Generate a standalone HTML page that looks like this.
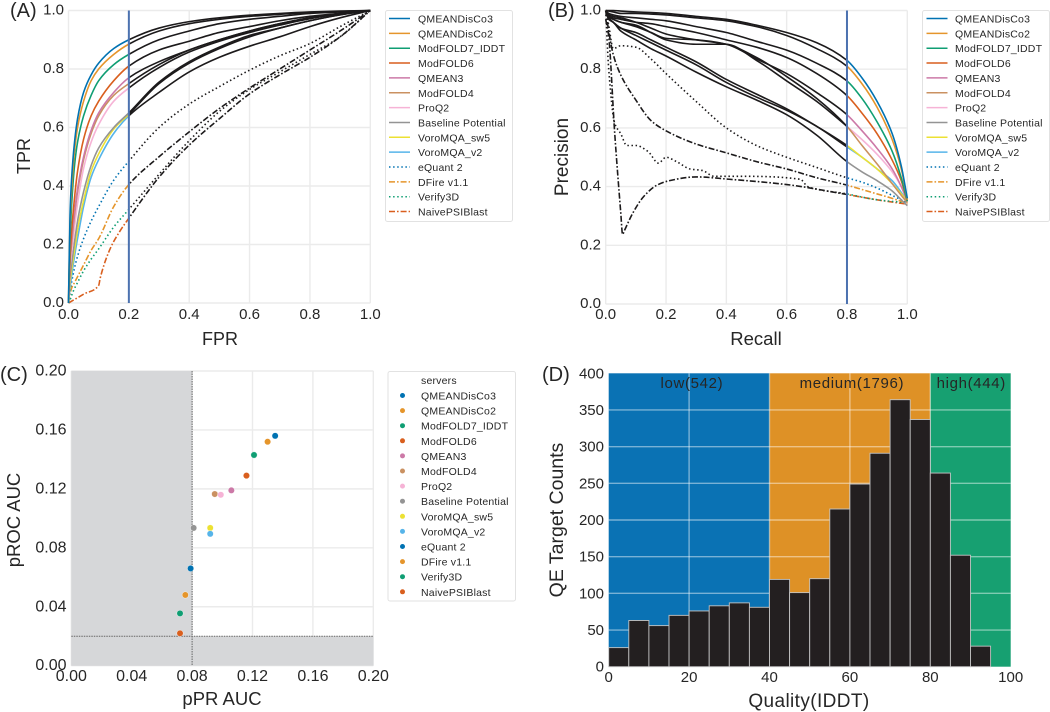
<!DOCTYPE html>
<html lang="en">
<head>
<meta charset="utf-8">
<title>QE benchmark panels</title>
<style>
html,body{margin:0;padding:0;background:#fff;width:1050px;height:712px;overflow:hidden}
svg{display:block;filter:blur(0.3px)}
text{font-family:"Liberation Sans",sans-serif;fill:#262626}
</style>
</head>
<body>
<svg id="fig" xmlns="http://www.w3.org/2000/svg" width="1050" height="712" viewBox="0 0 1050 712"></svg>
<script>
// ---------- shared categories ----------
const seriesNames = ["QMEANDisCo3","QMEANDisCo2","ModFOLD7_IDDT","ModFOLD6","QMEAN3","ModFOLD4","ProQ2","Baseline Potential","VoroMQA_sw5","VoroMQA_v2","eQuant 2","DFire v1.1","Verify3D","NaivePSIBlast"];

// ---------- panel A: ROC ----------
const rocFpr = [0,.005,.01,.02,.03,.05,.075,.1,.15,.2,.3,.4,.5,.6,.7,.8,.9,1];
const rocQMEANDisCo3 = [0,.30,.42,.55,.63,.72,.78,.82,.87,.90,.94,.962,.975,.984,.99,.995,.998,1];
const rocQMEANDisCo2 = [0,.27,.38,.52,.60,.69,.76,.80,.85,.885,.93,.955,.97,.98,.987,.993,.997,1];
const rocModFOLD7 = [0,.22,.33,.47,.55,.64,.71,.76,.815,.85,.90,.93,.955,.97,.98,.99,.995,1];
const rocModFOLD6 = [0,.15,.24,.36,.45,.56,.64,.69,.76,.81,.865,.895,.925,.945,.965,.98,.99,1];
const rocQMEAN3 = [0,.14,.21,.31,.39,.50,.59,.65,.72,.77,.825,.865,.90,.93,.955,.975,.99,1];
const rocModFOLD4 = [0,.14,.20,.30,.38,.49,.58,.64,.71,.75,.815,.865,.90,.93,.955,.975,.99,1];
const rocProQ2 = [0,.12,.17,.26,.34,.46,.55,.61,.69,.735,.805,.858,.895,.925,.95,.972,.988,1];
const rocBaseline = [0,.09,.13,.21,.28,.38,.47,.53,.60,.65,.755,.825,.875,.915,.94,.965,.985,1];
const rocVoroSw5 = [0,.07,.11,.18,.25,.35,.45,.51,.595,.645,.75,.82,.87,.91,.94,.965,.985,1];
const rocVoroV2 = [0,.05,.09,.16,.22,.33,.43,.49,.58,.64,.72,.79,.84,.878,.91,.945,.975,1];
const rocEQuant = [0,.04,.07,.12,.16,.22,.28,.33,.42,.485,.60,.68,.74,.796,.845,.887,.945,1];
const rocDFire = [0,.03,.05,.07,.09,.13,.18,.22,.33,.405,.50,.585,.665,.735,.80,.865,.93,1];
const rocVerify3D = [0,.01,.025,.05,.07,.11,.15,.185,.26,.32,.44,.555,.655,.73,.79,.85,.91,1];
const rocNaiveFpr = [0,.05,.1,.105,.14,.17,.2,.3,.4,.5,.6,.7,.8,.9,1];
const rocNaive = [0,.03,.06,.085,.19,.245,.29,.43,.54,.63,.715,.78,.84,.91,1];
const rocThreshold = [0.2];

// ---------- panel B: precision-recall ----------
const prRecall = [0,.01,.025,.05,.1,.15,.2,.3,.4,.5,.6,.7,.8,.85,.9,.95,.98,1];
const prQMEANDisCo3 = [1,1,1,.998,.995,.993,.99,.98,.97,.95,.925,.89,.83,.77,.69,.58,.47,.36];
const prQMEANDisCo2 = [1,.998,.995,.99,.99,.988,.985,.975,.965,.945,.915,.87,.81,.75,.67,.56,.46,.355];
const prModFOLD7 = [1,.99,.985,.98,.975,.97,.965,.945,.925,.895,.865,.82,.76,.70,.62,.52,.43,.35];
const prModFOLD6 = [1,.98,.975,.97,.96,.955,.945,.925,.90,.875,.84,.785,.71,.65,.58,.49,.42,.35];
const prQMEAN3 = [1,.985,.98,.975,.96,.94,.92,.90,.885,.835,.785,.72,.645,.59,.53,.46,.40,.35];
const prModFOLD4 = [1,.98,.97,.96,.945,.925,.905,.90,.885,.84,.775,.70,.605,.54,.477,.41,.37,.345];
const prProQ2 = [1,.98,.97,.96,.95,.925,.90,.885,.885,.83,.76,.69,.605,.56,.51,.45,.40,.35];
const prBaseline = [1,.97,.96,.93,.90,.87,.845,.79,.74,.695,.645,.575,.485,.45,.42,.385,.355,.335];
const prVoroSw5 = [1,.975,.96,.94,.925,.90,.875,.825,.765,.715,.665,.605,.54,.50,.46,.41,.375,.35];
const prVoroV2 = [1,.975,.96,.94,.915,.89,.865,.815,.755,.705,.66,.605,.535,.50,.46,.42,.38,.35];
const prEQuant = [1,.95,.87,.88,.875,.835,.785,.69,.60,.54,.50,.465,.43,.415,.395,.37,.355,.345];
const prDFire = [1,.93,.85,.78,.695,.625,.59,.545,.515,.485,.46,.43,.405,.39,.375,.36,.35,.345];
const prVerify3DRecall = [0,.01,.03,.05,.07,.1,.14,.175,.2,.235,.28,.32,.36,.47,.645,.67,.8,.9,1];
const prVerify3D = [1,.8,.615,.58,.54,.54,.52,.48,.50,.485,.46,.455,.435,.435,.425,.40,.375,.355,.345];
const prNaiveRecall = [0,.009,.03,.05,.056,.062,.09,.125,.17,.21,.30,.41,.6,.8,.9,1];
const prNaive = [.97,.92,.58,.31,.237,.25,.31,.365,.405,.42,.433,.425,.407,.373,.355,.34];
const prThreshold = [0.8];

// ---------- panel C: partial AUC scatter ----------
const pPrAuc = [.135,.130,.121,.116,.106,.095,.099,.081,.092,.092,.079,.0755,.072,.072];
const pRocAuc = [.156,.152,.143,.129,.119,.1165,.116,.0935,.0935,.0895,.066,.048,.0355,.022];
const pPrCutoff = [0.08];
const pRocCutoff = [0.02];

// ---------- panel D: histogram ----------
const histCounts = [26,63,56,70,76,83,87,81,119,101,120,215,249,291,364,337,264,152,28,0];
const histBinWidth = [5];
const qualityRegionEdges = [0,40,80,100];
const qualityRegionLabels = ["low(542)","medium(1796)","high(444)"];
const qualityRegionLabelAt = [20.7,60.5,90.2];

// ---------- tick labels ----------
const unitTicks = [0,.2,.4,.6,.8,1];
const aucTicks = [0,.04,.08,.12,.16,.2];
const histXTicks = [0,20,40,60,80,100];
const histYTicks = [0,50,100,150,200,250,300,350,400];

// ---------- styling ----------
const colors = ["#0072b2","#e5952b","#0f9e73","#d95f1e","#cc79a7","#ca9161","#f6b3d6","#949494","#ece133","#56b4e9","#0072b2","#e5952b","#0f9e73","#d95f1e"];
const dashDot = "6 2 1.6 2";
const dotted = "1.5 2.6";
const dashes = [null,null,null,null,null,null,null,null,null,null,dotted,dashDot,dotted,dashDot];

const svg = document.getElementById('fig');
const NS = 'http://www.w3.org/2000/svg';
function mk(tag, attrs, parent) {
  const e = document.createElementNS(NS, tag);
  for (const k in attrs) e.setAttribute(k, attrs[k]);
  (parent || svg).appendChild(e);
  return e;
}
function txt(s, x, y, size, anchor, parent, rot, ls) {
  const t = mk('text', {x:x, y:y, 'font-size':size, 'text-anchor':anchor || 'start'}, parent);
  if (rot) t.setAttribute('transform', 'rotate(' + rot + ' ' + x + ' ' + y + ')');
  if (ls) t.setAttribute('letter-spacing', ls);
  t.textContent = s;
  return t;
}
function scale(d0, d1, r0, r1) { return v => r0 + (v - d0) * (r1 - r0) / (d1 - d0); }

// Monotone cubic path through data points mapped to pixels
function curve(xs, ys, sx, sy) {
  const n = xs.length, X = xs.map(sx), Y = ys.map(sy), d = [], m = new Array(n);
  for (let i = 0; i < n - 1; i++) d.push((Y[i + 1] - Y[i]) / (X[i + 1] - X[i]));
  m[0] = d[0]; m[n - 1] = d[n - 2];
  for (let i = 1; i < n - 1; i++) {
    if (d[i - 1] * d[i] <= 0) { m[i] = 0; continue; }
    const h0 = X[i] - X[i - 1], h1 = X[i + 1] - X[i];
    m[i] = 3 * (h0 + h1) / ((2 * h1 + h0) / d[i - 1] + (h1 + 2 * h0) / d[i]);
  }
  let p = 'M' + X[0].toFixed(2) + ' ' + Y[0].toFixed(2);
  for (let i = 0; i < n - 1; i++) {
    const h = (X[i + 1] - X[i]) / 3;
    p += 'C' + (X[i] + h).toFixed(2) + ' ' + (Y[i] + m[i] * h).toFixed(2) + ' ' +
         (X[i + 1] - h).toFixed(2) + ' ' + (Y[i + 1] - m[i + 1] * h).toFixed(2) + ' ' +
         X[i + 1].toFixed(2) + ' ' + Y[i + 1].toFixed(2);
  }
  return p;
}

function frame(g, box, xTicks, yTicks, sx, sy, gridColor) {
  for (const t of xTicks) {
    const l = mk('line', {x1:sx(t), x2:sx(t), y1:box.t, y2:box.b, stroke:gridColor, 'stroke-width':1.4}, g);
    
    
  }
  for (const t of yTicks) {
    const l = mk('line', {x1:box.l, x2:box.r, y1:sy(t), y2:sy(t), stroke:gridColor, 'stroke-width':1.4}, g);
    
    
  }
}
function tickLabels(g, xTicks, yTicks, sx, sy, xBase, yEnd, size, fmtX, fmtY, yShift) {
  for (const t of xTicks) {
    const e = txt(fmtX(t), sx(t), xBase, size, 'middle', g);
    
    
  }
  for (const t of yTicks) {
    const e = txt(fmtY(t), yEnd, sy(t) + yShift, size, 'end', g);
    
    
  }
}
function lineLegend(x, y, w, h, textX, lineX0, lineX1, firstY, step) {
  const g = mk('g', {});
  
  
  mk('rect', {x:x, y:y, width:w, height:h, rx:2, fill:'#fff', stroke:'#e2e2e2', 'stroke-width':1}, g);
  seriesNames.forEach((name, i) => {
    const row = mk('g', {}, g);
    
    
    const ly = firstY + i * step;
    const a = {x1:lineX0, x2:lineX1, y1:ly, y2:ly, stroke:colors[i], 'stroke-width':1.5};
    if (dashes[i]) a['stroke-dasharray'] = dashes[i];
    mk('line', a, row);
    txt(name, textX, ly + 4, 10.5, 'start', row, null, 0.2).setAttribute('fill', '#333');
  });
}

function curvePanel(name, box, xArrays, yArrays, thresh, colorLeft) {
  const g = mk('g', {});
  
  
  const sx = scale(0, 1, box.l, box.r), sy = scale(0, 1, box.b, box.t);
  frame(g, box, unitTicks, unitTicks, sx, sy, '#ebebeb');
  const tx = sx(thresh);
  const defs = mk('defs', {}, g);
  const cl = mk('clipPath', {id:name + '-left'}, defs);
  mk('rect', {x:box.l - 3, y:box.t - 4, width:tx - box.l + 3, height:box.b - box.t + 8}, cl);
  const cr = mk('clipPath', {id:name + '-right'}, defs);
  mk('rect', {x:tx, y:box.t - 4, width:box.r - tx + 3, height:box.b - box.t + 8}, cr);
  const colourClip = colorLeft ? '-left' : '-right', blackClip = colorLeft ? '-right' : '-left';
  for (let i = yArrays.length - 1; i >= 0; i--) {
    const d = curve(xArrays[i], yArrays[i], sx, sy);
    const base = {d:d, fill:'none', 'stroke-width':1.6, 'stroke-linejoin':'round'};
    if (dashes[i]) base['stroke-dasharray'] = dashes[i];
    const p1 = mk('path', Object.assign({stroke:colors[i], 'clip-path':'url(#' + name + colourClip + ')'}, base), g);
    
    
    const p2 = mk('path', Object.assign({stroke:'#1c1a1b', 'clip-path':'url(#' + name + blackClip + ')'}, base), g);
    
    
  }
  const th = mk('line', {x1:tx, x2:tx, y1:box.t, y2:box.b, stroke:'#4c72b0', 'stroke-width':2}, g);
  
  
  return {g, sx, sy};
}

// ===== Panel A =====
const boxA = {l:68.5, r:370.3, t:10.5, b:303};
const rocSeries = [rocQMEANDisCo3,rocQMEANDisCo2,rocModFOLD7,rocModFOLD6,rocQMEAN3,rocModFOLD4,rocProQ2,rocBaseline,rocVoroSw5,rocVoroV2,rocEQuant,rocDFire,rocVerify3D,rocNaive];
const rocXs = rocSeries.map(() => rocFpr);
rocXs[13] = rocNaiveFpr;
const A = curvePanel('roc-panel', boxA, rocXs, rocSeries, rocThreshold[0], true);
tickLabels(A.g, unitTicks, unitTicks, A.sx, A.sy, 319, 64, 15, t => t.toFixed(1), t => t.toFixed(1), 4);
const tA1 = txt('FPR', 220, 345, 18, 'middle', A.g);


const tA2 = txt('TPR', 30, 156, 18, 'middle', A.g, -90);


const tA3 = txt('(A)', 10, 17, 20, 'start', A.g);


lineLegend(385.5, 10.5, 127, 211, 418, 389, 410, 18.5, 14.85);

// ===== Panel B =====
const boxB = {l:605.7, r:907.3, t:10.5, b:304};
const prSeries = [prQMEANDisCo3,prQMEANDisCo2,prModFOLD7,prModFOLD6,prQMEAN3,prModFOLD4,prProQ2,prBaseline,prVoroSw5,prVoroV2,prEQuant,prDFire,prVerify3D,prNaive];
const prXs = prSeries.map(() => prRecall);
prXs[12] = prVerify3DRecall;
prXs[13] = prNaiveRecall;
const B = curvePanel('pr-panel', boxB, prXs, prSeries, prThreshold[0], false);
tickLabels(B.g, unitTicks, unitTicks, B.sx, B.sy, 319, 601, 15, t => t.toFixed(1), t => t.toFixed(1), 4);
const tB1 = txt('Recall', 756, 345, 18.5, 'middle', B.g);


const tB2 = txt('Precision', 568, 157, 19, 'middle', B.g, -90);


const tB3 = txt('(B)', 548, 17, 20, 'start', B.g);


lineLegend(922.5, 10.5, 127, 211, 955, 926.5, 947.5, 18.5, 14.85);

// ===== Panel C =====
(function () {
  const box = {l:71.3, r:373.3, t:371, b:665.7};
  const g = mk('g', {});
  
  
  const sx = scale(0, .2, box.l, box.r), sy = scale(0, .2, box.b, box.t);
  frame(g, box, aucTicks, aucTicks, sx, sy, '#ebebeb');
  const cx = sx(pPrCutoff[0]), cy = sy(pRocCutoff[0]);
  const r1 = mk('rect', {x:box.l, y:box.t, width:cx - box.l, height:box.b - box.t, fill:'#d6d7d9'}, g);
  
  
  const r2 = mk('rect', {x:box.l, y:cy, width:box.r - box.l, height:box.b - cy, fill:'#d6d7d9'}, g);
  
  
  const l1 = mk('line', {x1:cx, x2:cx, y1:box.t, y2:box.b, stroke:'#666', 'stroke-width':1, 'stroke-dasharray':'1.5 1'}, g);
  
  
  const l2 = mk('line', {x1:box.l, x2:box.r, y1:cy, y2:cy, stroke:'#666', 'stroke-width':1, 'stroke-dasharray':'1.5 1'}, g);
  
  
  pPrAuc.forEach((v, i) => {
    const c = mk('circle', {cx:sx(v), cy:sy(pRocAuc[i]), r:3.2, fill:colors[i], stroke:'#fff', 'stroke-width':.4}, g);
    
    
  });
  tickLabels(g, aucTicks, aucTicks, sx, sy, 681, 66.5, 16, t => t.toFixed(2), t => t.toFixed(2), 4.5);
  const t1 = txt('pPR AUC', 222, 705, 18.5, 'middle', g);
  
  
  const t2 = txt('pROC AUC', 20, 520, 18.5, 'middle', g, -90);
  
  
  const t3 = txt('(C)', 0, 381, 20, 'start', g);
  
  

  const lg = mk('g', {});
  
  
  mk('rect', {x:388, y:371.5, width:127.5, height:229.5, rx:2, fill:'#fff', stroke:'#e2e2e2', 'stroke-width':1}, lg);
  txt('servers', 421, 384, 10.5, 'start', lg, null, 0.2).setAttribute('fill', '#333');
  seriesNames.forEach((name, i) => {
    const row = mk('g', {}, lg);
    
    
    const ly = 395.5 + i * 15.1;
    mk('circle', {cx:402.5, cy:ly, r:2.5, fill:colors[i]}, row);
    txt(name, 421, ly + 4, 10.5, 'start', row, null, 0.2).setAttribute('fill', '#333');
  });
})();

// ===== Panel D =====
(function () {
  const box = {l:608.7, r:1010.7, t:373.3, b:666.7};
  const g = mk('g', {});
  
  
  const sx = scale(0, 100, box.l, box.r), sy = scale(0, 400, box.b, box.t);
  const regionColors = ['#0a72b4', '#de9126', '#17a071'];
  for (let i = 0; i < qualityRegionLabels.length; i++) {
    const x0 = sx(qualityRegionEdges[i]), x1 = sx(qualityRegionEdges[i + 1]);
    const r = mk('rect', {x:x0, y:box.t, width:x1 - x0, height:box.b - box.t, fill:regionColors[i]}, g);
    
    
  }
  frame(g, box, histXTicks.slice(1, -1), histYTicks.slice(1, -1), sx, sy, 'rgba(255,255,255,0.45)');
  histCounts.forEach((c, i) => {
    if (!c) return;
    const x0 = sx(i * histBinWidth[0]), x1 = sx((i + 1) * histBinWidth[0]);
    const b = mk('rect', {x:x0, y:sy(c), width:x1 - x0, height:box.b - sy(c), fill:'#231f20', stroke:'#c4c4c4', 'stroke-width':0.9}, g);
    
    
  });
  for (let i = 0; i < qualityRegionLabels.length; i++) {
    const e = txt(qualityRegionLabels[i], sx(qualityRegionLabelAt[i]), 388, 15, 'middle', g, null, 0.65);
    e.setAttribute('fill', '#1c1c1c');
    
    
  }
  tickLabels(g, histXTicks, histYTicks, sx, sy, 682, 604, 15, t => String(t), t => String(t), 5);
  const t1 = txt('Quality(IDDT)', 809, 707, 19, 'middle', g, null, 0.4);
  
  
  const t2 = txt('QE Target Counts', 563, 520, 19.5, 'middle', g, -90);
  
  
  const t3 = txt('(D)', 542, 381, 20, 'start', g);
  
  
})();
</script>
</body>
</html>
